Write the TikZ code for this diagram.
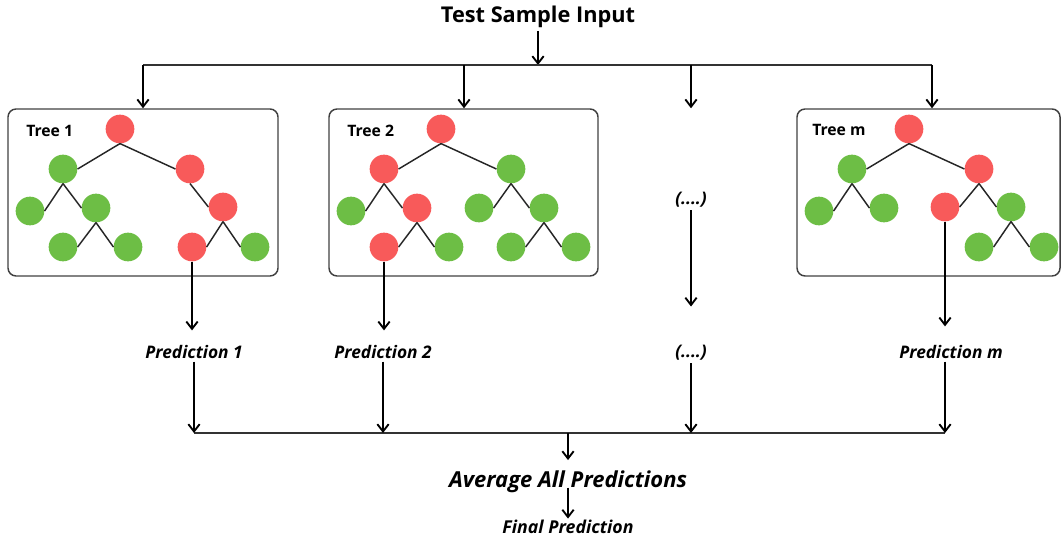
\documentclass[tikz,border=0pt]{standalone}
\usepackage{fontspec}
\setmainfont{Open Sans}
\usetikzlibrary{arrows.meta,calc}
\definecolor{nred}{HTML}{F85A5A}
\definecolor{ngreen}{HTML}{6DBE45}
\begin{document}
\begin{tikzpicture}[x=0.75pt,y=-0.75pt,
 arr/.style={line width=1.5pt,-{Straight Barb[length=5.5pt,width=8.5pt,line width=1.4pt]}},
 bus/.style={line width=1.4pt,draw=black!80},
 treebox/.style={draw=black!75,line width=1.1pt,rounded corners=6pt,minimum height=125.25pt,inner sep=0pt},
 rn/.style={circle,fill=nred,minimum size=21.5pt,inner sep=0pt},
 gn/.style={circle,fill=ngreen,minimum size=21.5pt,inner sep=0pt},
 ed/.style={line width=1.1pt,draw=black!85},
 lbl/.style={font=\bfseries\fontsize{11.8}{13}\selectfont,inner sep=0pt,anchor=west},
 pred/.style={font=\bfseries\itshape\fontsize{13}{15}\selectfont,inner sep=2pt},
 title/.style={font=\bfseries\fontsize{16.3}{18}\selectfont,inner sep=2pt}
]
\useasboundingbox (0,0) rectangle (1062,541);

% title and top bus
\node[title] (title) at (538,17) {Test Sample Input};
\coordinate (b1) at (143,65);
\coordinate (b2) at (464,65);
\coordinate (b3) at (691,65);
\coordinate (b4) at (932,65);
\coordinate (bt) at (538,65);
\draw[arr] (title.south) -- (bt);
\draw[bus] (b1) -- (b4);

% boxes
\node[treebox,minimum width=202.5pt] (box1) at (143,192.5) {};
\node[treebox,minimum width=201.75pt] (box2) at (463.5,192.5) {};
\node[treebox,minimum width=197.25pt] (boxm) at (928.5,192.5) {};
\coordinate (c3) at (b3 |- box1.north);

\draw[arr] (b1) -- (box1.north);
\draw[arr] (b2) -- (b2 |- box2.north);
\draw[arr] (b3) -- (c3);
\draw[arr] (b4) -- (b4 |- boxm.north);

\node[lbl] (l1) at (26,131) {Tree 1};
\node[lbl] (l2) at (347,131) {Tree 2};
\node[lbl] (lm) at (812,130) {Tree m};

% Tree 1
\node[rn] (ta) at (120,129) {};
\node[gn] (tb) at (63,169) {};
\node[rn] (tc) at (190,169) {};
\node[gn] (td) at (30,211) {};
\node[gn] (te) at (96,208) {};
\node[rn] (tf) at (223,207) {};
\node[gn] (tg) at (63,247) {};
\node[gn] (th) at (128,247) {};
\node[rn] (ti) at (192,247) {};
\node[gn] (tj) at (255,247) {};
\draw[ed] (ta.south) -- (tb.east);
\draw[ed] (ta.south) -- (tc.west);
\draw[ed] (tb.south) -- (td.east);
\draw[ed] (tb.south) -- (te.west);
\draw[ed] (tc.south) -- (tf.west);
\draw[ed] (te.south) -- (tg.east);
\draw[ed] (te.south) -- (th.west);
\draw[ed] (tf.south) -- (ti.east);
\draw[ed] (tf.south) -- (tj.west);

% Tree 2
\node[rn] (ua) at (441,129) {};
\node[rn] (ub) at (384,169) {};
\node[gn] (uc) at (511,169) {};
\node[gn] (ud) at (351,211) {};
\node[rn] (ue) at (417,208) {};
\node[gn] (uf) at (479,208) {};
\node[gn] (ug) at (544,208) {};
\node[rn] (uh) at (384,247) {};
\node[gn] (ui) at (449,247) {};
\node[gn] (uj) at (511,247) {};
\node[gn] (uk) at (576,247) {};
\draw[ed] (ua.south) -- (ub.east);
\draw[ed] (ua.south) -- (uc.west);
\draw[ed] (ub.south) -- (ud.east);
\draw[ed] (ub.south) -- (ue.west);
\draw[ed] (ue.south) -- (uh.east);
\draw[ed] (ue.south) -- (ui.west);
\draw[ed] (uc.south) -- (uf.east);
\draw[ed] (uc.south) -- (ug.west);
\draw[ed] (ug.south) -- (uj.east);
\draw[ed] (ug.south) -- (uk.west);

% Tree m
\node[rn] (va) at (909,129) {};
\node[gn] (vb) at (852,169) {};
\node[rn] (vc) at (979,169) {};
\node[gn] (vd) at (819,211) {};
\node[gn] (ve) at (884,208) {};
\node[rn] (vf) at (945,207) {};
\node[gn] (vg) at (1011,207) {};
\node[gn] (vh) at (979,247) {};
\node[gn] (vi) at (1044,247) {};
\draw[ed] (va.south) -- (vb.east);
\draw[ed] (va.south) -- (vc.west);
\draw[ed] (vb.south) -- (vd.east);
\draw[ed] (vb.south) -- (ve.west);
\draw[ed] (vc.south) -- (vf.east);
\draw[ed] (vc.south) -- (vg.west);
\draw[ed] (vg.south) -- (vh.east);
\draw[ed] (vg.south) -- (vi.west);

% predictions
\node[pred] (p1) at (194,352) {Prediction 1};
\node[pred] (p2) at (383,352) {Prediction 2};
\node[pred] (pd1) at (691,200) {(....)};
\node[pred] (pd2) at (691,353) {(....)};
\node[pred] (pm) at (951,352) {Prediction m};

\draw[arr,shorten >=9pt] (ti.south) -- (ti.south |- p1.north);
\draw[arr,shorten >=9pt] (uh.south) -- (uh.south |- p2.north);
\draw[arr,shorten >=27pt] (pd1.south) -- (pd2.north);
\draw[arr,shorten >=12pt] (vf.south) -- (vf.south |- pm.north);

% bottom bus
\coordinate (bl) at (194,433);
\coordinate (br) at (945,433);
\coordinate (bm) at (568,433);
\draw[bus] (bl) -- (br);
\draw[arr] (p1.south) -- (p1.south |- bl);
\draw[arr] (p2.south) -- (p2.south |- bl);
\draw[arr] (pd2.south) -- (pd2.south |- bl);
\draw[arr] (vf.south |- pm.south) -- (br);

% average and final
\node[pred,font=\bfseries\itshape\fontsize{16.5}{18}\selectfont] (avg) at (568,482) {Average All Predictions};
\node[pred,font=\bfseries\itshape\fontsize{13.3}{15}\selectfont,inner sep=1pt] (fin) at (568,527) {Final Prediction};
\draw[arr,shorten >=6pt] (bm) -- (avg.north);
\draw[arr] (avg.base) -- (fin.north);
\end{tikzpicture}
\end{document}
